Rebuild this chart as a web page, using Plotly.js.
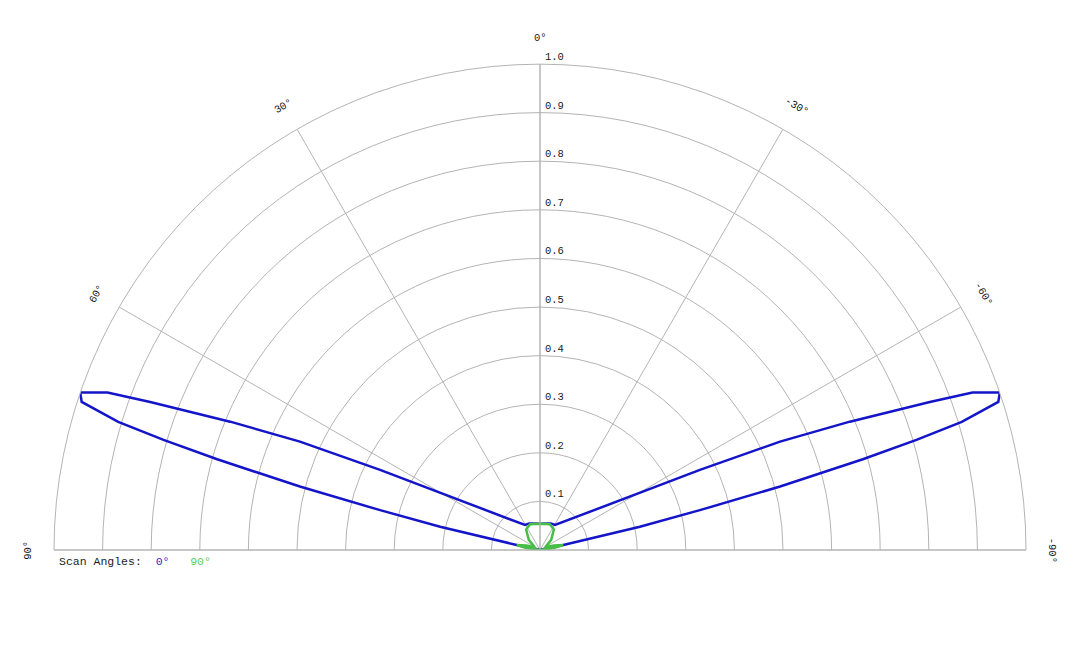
<!DOCTYPE html>
<html>
<head>
<meta charset="utf-8">
<script src="https://cdn.plot.ly/plotly-3.0.1.min.js"></script>
<style>
  body { margin: 0; background: #fff; }
  #chart { width: 1080px; height: 648px; }
</style>
</head>
<body>
<div id="chart"></div>
<script>
// scan angle 0 deg (blue)
var theta0 = [90, 85, 77.9, 76.9, 76.0, 75.2, 74.3, 73.7, 73.1, 72.1, 71.1, 70.0, 69.2, 67.5, 65.7, 63.4, 31, 22, 0,
              -22, -31, -63.4, -65.7, -67.5, -69.2, -70.0, -71.1, -72.1, -73.1, -73.7, -74.3, -75.2, -76.0, -76.9, -77.9, -85, -90];
var r0 = [0, 0, 0.049, 0.211, 0.339, 0.511, 0.69, 0.807, 0.907, 0.991, 1.0, 0.947, 0.858, 0.690, 0.542, 0.368, 0.06, 0.059, 0.054,
          0.059, 0.06, 0.368, 0.542, 0.690, 0.858, 0.947, 1.0, 0.991, 0.907, 0.807, 0.69, 0.511, 0.339, 0.211, 0.049, 0, 0];

// scan angle 90 deg (green)
var theta90 = [90, 81, 78, 72, 62, 48, 34, 21, 0, -21, -34, -48, -62, -72, -78, -81, -90];
var r90 = [0, 0.03, 0.049, 0.03, 0.012, 0.031, 0.051, 0.057, 0.054, 0.057, 0.051, 0.031, 0.012, 0.03, 0.049, 0.03, 0];

var angleTicks = [90, 60, 30, 0, -30, -60, -90];
var radialTicks = [0.1, 0.2, 0.3, 0.4, 0.5, 0.6, 0.7, 0.8, 0.9, 1.0];
var legendTitle = 'Scan Angles:';
var seriesNames = ['0°', '90°'];

var blue = '#1414c8';
var green = '#46be46';
var gridColor = '#b4b4b4';
var textColor = '#1a1a1a';
var monoFont = 'Liberation Mono, Courier New, monospace';

var data = [
  {type: 'scatterpolar', mode: 'lines', r: r0, theta: theta0, name: seriesNames[0],
   line: {color: blue, width: 2.5}, hoverinfo: 'skip'},
  {type: 'scatterpolar', mode: 'lines', r: r90, theta: theta90, name: seriesNames[1],
   line: {color: green, width: 2.5}, hoverinfo: 'skip'}
];

// angular labels are rotated tangentially, so they go in as annotations
var annotations = angleTicks.map(function(a) {
  var rad = a * Math.PI / 180;
  var rr = 1.054;
  return {
    xref: 'paper', yref: 'paper',
    x: 0.5 - 0.5 * rr * Math.sin(rad),
    y: rr * Math.cos(rad),
    text: a + '°', showarrow: false,
    xanchor: 'center', yanchor: 'middle',
    textangle: -a,
    font: {family: monoFont, size: 10.5, color: textColor}
  };
});

// radial labels sit just above each ring, right of the 0° spoke
radialTicks.forEach(function(v) {
  annotations.push({
    xref: 'paper', yref: 'paper', x: 0.5, y: v,
    xanchor: 'left', yanchor: 'middle', xshift: 3, yshift: 7,
    text: v.toFixed(1), showarrow: false,
    font: {family: monoFont, size: 10.5, color: textColor}
  });
});

annotations.push({
  xref: 'paper', yref: 'paper', x: 0.003, y: -0.023,
  xanchor: 'left', yanchor: 'middle', showarrow: false, align: 'left',
  text: legendTitle + '\u00a0\u00a0<span style="color:#2a2ad0">' + seriesNames[0] + '</span>' +
        '\u00a0\u00a0\u00a0<span style="color:#5ccc5c">' + seriesNames[1] + '</span>',
  font: {family: monoFont, size: 11.5, color: textColor}
});

var layout = {
  width: 1080,
  height: 648,
  margin: {l: 54, r: 54, t: 64, b: 98},
  paper_bgcolor: '#fff',
  showlegend: false,
  polar: {
    domain: {x: [0, 1], y: [0, 1]},
    sector: [0, 180],
    bgcolor: '#fff',
    angularaxis: {
      rotation: 90,
      direction: 'counterclockwise',
      tickmode: 'array',
      tickvals: angleTicks,
      showticklabels: false,
      ticks: '',
      showline: true,
      linecolor: gridColor,
      linewidth: 1,
      gridcolor: gridColor,
      gridwidth: 1
    },
    radialaxis: {
      range: [0, 1],
      angle: 90,
      tickmode: 'array',
      tickvals: radialTicks,
      showticklabels: false,
      ticks: '',
      showline: true,
      linecolor: gridColor,
      gridcolor: gridColor,
      gridwidth: 1
    }
  },
  annotations: annotations
};

Plotly.newPlot('chart', data, layout, {staticPlot: true});
</script>
</body>
</html>
